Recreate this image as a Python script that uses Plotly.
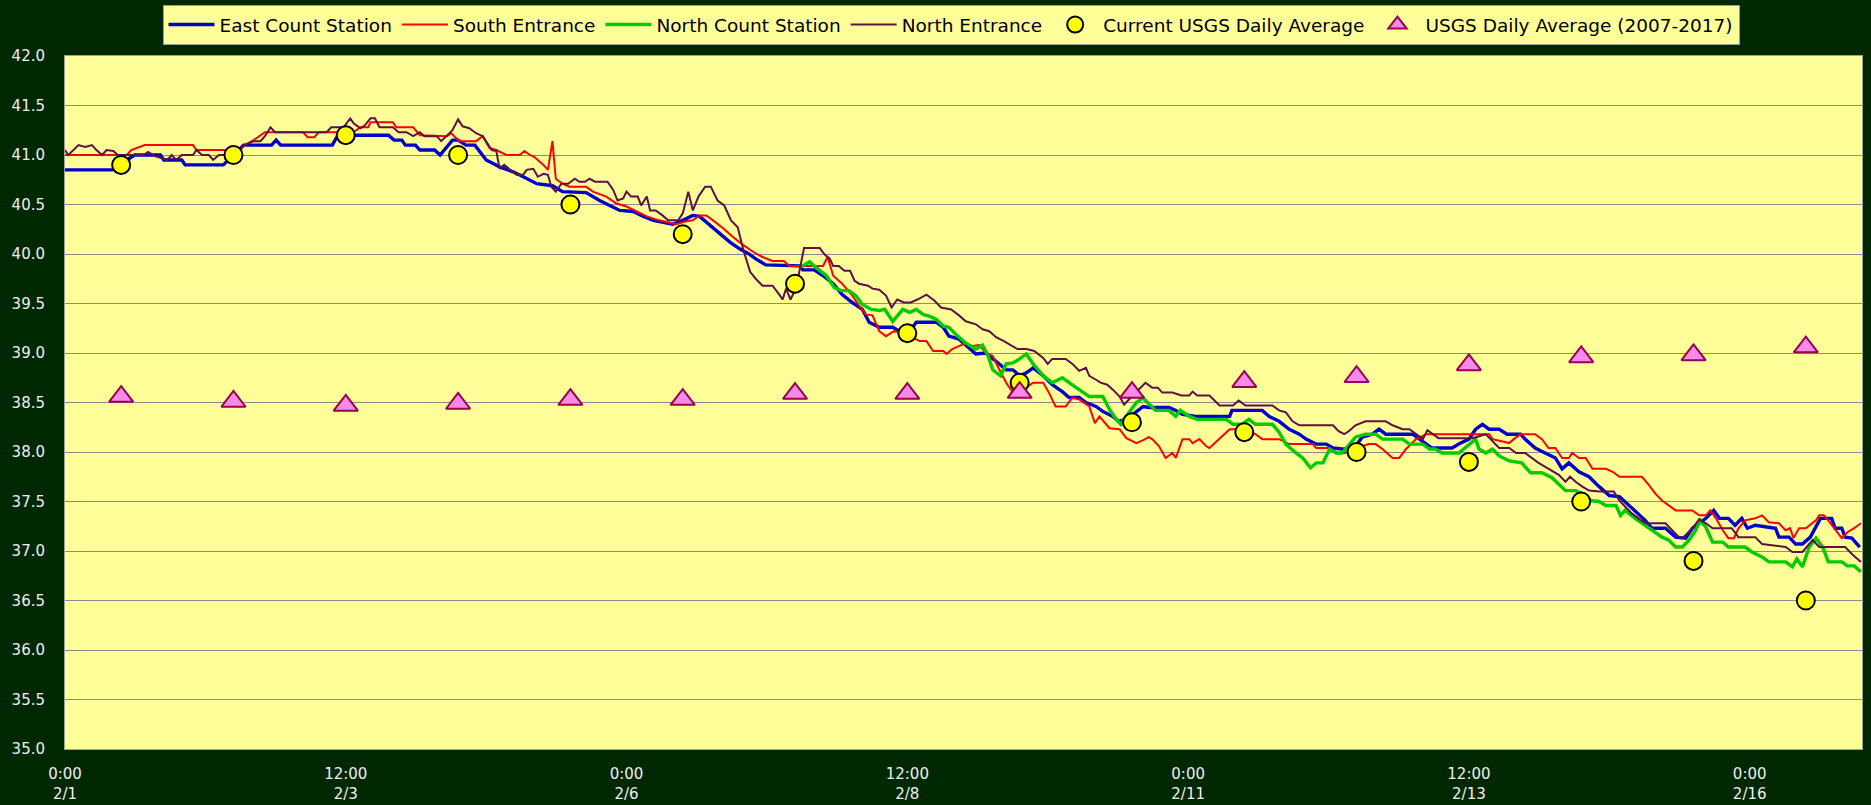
import pandas as pd
import plotly.graph_objects as go

# ---------------- data (days since 2/1 0:00, water temperature) ----------------
east_days = [0.0, 0.42, 0.55, 0.62, 0.85, 0.88, 1.04, 1.07, 1.41, 1.5, 1.59, 1.84, 1.88, 1.92, 2.38, 2.43, 2.88, 2.93, 3.0, 3.03,
             3.12, 3.16, 3.29, 3.34, 3.45, 3.5, 3.57, 3.65, 3.75, 3.87, 3.99, 4.08, 4.2, 4.34, 4.43, 4.64, 4.76, 4.85, 4.94, 5.06,
             5.15, 5.24, 5.41, 5.5, 5.59, 5.65, 5.74, 5.83, 5.92, 6.01, 6.09, 6.15, 6.24, 6.54, 6.57, 6.67, 6.75, 6.84, 6.92, 7.01,
             7.1, 7.16, 7.25, 7.37, 7.43, 7.52, 7.58, 7.76, 7.82, 7.87, 7.96, 8.05, 8.11, 8.2, 8.29, 8.38, 8.44, 8.5, 8.56, 8.62,
             8.71, 8.79, 8.88, 8.94, 9.03, 9.09, 9.18, 9.24, 9.33, 9.38, 9.45, 9.54, 9.6, 9.65, 9.83, 9.89, 9.95, 10.07, 10.37, 10.39,
             10.66, 10.72, 10.81, 10.9, 10.99, 11.05, 11.14, 11.23, 11.29, 11.37, 11.43, 11.49, 11.55, 11.64, 11.7, 11.76, 12.0, 12.06, 12.12, 12.17,
             12.35, 12.41, 12.5, 12.56, 12.62, 12.68, 12.77, 12.84, 12.96, 13.0, 13.09, 13.18, 13.27, 13.33, 13.39, 13.48, 13.57, 13.66, 13.75, 13.84,
             13.89, 13.98, 14.07, 14.13, 14.25, 14.34, 14.43, 14.49, 14.55, 14.61, 14.68, 14.73, 14.81, 14.87, 14.93, 14.98, 15.05, 15.23, 15.26, 15.35,
             15.41, 15.47, 15.54, 15.58, 15.63, 15.73, 15.76, 15.82, 15.85, 15.91, 15.98]
east_temp = [40.85, 40.85, 40.95, 41.0, 41.0, 40.95, 40.95, 40.9, 40.9, 41.0, 41.1, 41.1, 41.15, 41.1, 41.1, 41.2, 41.2, 41.15, 41.15, 41.1,
             41.1, 41.05, 41.05, 41.0, 41.15, 41.15, 41.1, 41.1, 40.95, 40.88, 40.83, 40.78, 40.71, 40.69, 40.63, 40.62, 40.54, 40.49, 40.44, 40.43,
             40.38, 40.34, 40.3, 40.34, 40.39, 40.38, 40.29, 40.21, 40.12, 40.05, 40.0, 39.95, 39.89, 39.88, 39.84, 39.84, 39.78, 39.7, 39.59, 39.51,
             39.44, 39.31, 39.26, 39.26, 39.22, 39.22, 39.31, 39.31, 39.26, 39.17, 39.14, 39.05, 38.99, 39.0, 38.92, 38.83, 38.83, 38.77, 38.8, 38.85,
             38.77, 38.68, 38.61, 38.55, 38.55, 38.5, 38.46, 38.41, 38.36, 38.31, 38.33, 38.41, 38.46, 38.45, 38.45, 38.42, 38.38, 38.36, 38.36, 38.42,
             38.42, 38.36, 38.31, 38.23, 38.18, 38.13, 38.08, 38.08, 38.04, 38.03, 38.03, 38.06, 38.15, 38.18, 38.23, 38.18, 38.18, 38.13, 38.08, 38.04,
             38.04, 38.08, 38.13, 38.23, 38.28, 38.23, 38.23, 38.18, 38.18, 38.13, 38.04, 37.99, 37.94, 37.83, 37.89, 37.8, 37.75, 37.65, 37.56, 37.55,
             37.5, 37.4, 37.31, 37.23, 37.23, 37.14, 37.13, 37.23, 37.28, 37.33, 37.41, 37.33, 37.33, 37.26, 37.33, 37.23, 37.26, 37.23, 37.14, 37.14,
             37.07, 37.07, 37.14, 37.23, 37.33, 37.33, 37.23, 37.23, 37.14, 37.13, 37.04]

south_days = [0.0, 0.55, 0.59, 0.71, 1.14, 1.17, 1.56, 1.6, 1.68, 1.74, 1.78, 2.12, 2.16, 2.22, 2.26, 2.57, 2.63, 2.7, 2.72, 2.92,
              2.95, 3.1, 3.16, 3.4, 3.44, 3.51, 3.66, 3.72, 3.78, 3.84, 3.93, 4.05, 4.09, 4.14, 4.18, 4.26, 4.3, 4.34, 4.37, 4.43,
              4.49, 4.64, 4.7, 4.82, 4.91, 5.0, 5.09, 5.18, 5.29, 5.38, 5.44, 5.53, 5.59, 5.65, 5.71, 5.77, 5.86, 5.95, 6.04, 6.13,
              6.21, 6.3, 6.4, 6.45, 6.75, 6.79, 6.84, 6.92, 7.01, 7.07, 7.13, 7.19, 7.25, 7.31, 7.38, 7.43, 7.52, 7.61, 7.67, 7.73,
              7.82, 7.85, 7.9, 7.96, 8.02, 8.08, 8.14, 8.2, 8.26, 8.32, 8.38, 8.44, 8.53, 8.62, 8.71, 8.76, 8.82, 8.91, 8.97, 9.03,
              9.12, 9.17, 9.21, 9.3, 9.39, 9.45, 9.54, 9.6, 9.65, 9.68, 9.74, 9.8, 9.86, 9.89, 9.95, 10.01, 10.04, 10.1, 10.16, 10.19,
              10.28, 10.37, 10.48, 10.6, 10.66, 10.81, 10.9, 11.11, 11.14, 11.26, 11.32, 11.4, 11.5, 11.61, 11.67, 11.73, 11.82, 11.88, 11.94, 12.03,
              12.12, 12.68, 12.71, 12.86, 12.9, 12.96, 13.09, 13.15, 13.21, 13.27, 13.33, 13.39, 13.42, 13.48, 13.54, 13.6, 13.72, 13.78, 13.84, 14.04,
              14.1, 14.16, 14.22, 14.28, 14.34, 14.49, 14.55, 14.61, 14.65, 14.7, 14.76, 14.81, 14.86, 14.9, 14.96, 15.05, 15.11, 15.17, 15.26, 15.32,
              15.36, 15.39, 15.44, 15.5, 15.59, 15.62, 15.66, 15.7, 15.75, 15.82, 15.87, 15.93, 15.99]
south_temp = [41.0, 41.0, 41.05, 41.1, 41.1, 41.05, 41.05, 41.1, 41.15, 41.2, 41.23, 41.23, 41.18, 41.18, 41.23, 41.23, 41.28, 41.28, 41.33, 41.33,
              41.28, 41.28, 41.2, 41.19, 41.22, 41.14, 41.14, 41.19, 41.07, 41.05, 41.0, 41.0, 41.04, 41.0, 40.98, 40.9, 40.85, 41.14, 40.76, 40.71,
              40.68, 40.68, 40.63, 40.58, 40.51, 40.48, 40.43, 40.38, 40.34, 40.32, 40.3, 40.33, 40.34, 40.39, 40.39, 40.34, 40.26, 40.17, 40.09, 40.02,
              39.97, 39.93, 39.93, 39.88, 39.88, 39.97, 39.78, 39.7, 39.58, 39.48, 39.39, 39.38, 39.22, 39.17, 39.22, 39.21, 39.17, 39.12, 39.12, 39.02,
              39.02, 38.99, 39.04, 39.07, 39.1, 39.07, 39.08, 39.0, 38.97, 38.83, 38.7, 38.6, 38.63, 38.7, 38.7, 38.6, 38.46, 38.46, 38.55, 38.53,
              38.46, 38.29, 38.36, 38.24, 38.23, 38.14, 38.09, 38.12, 38.15, 38.13, 38.06, 37.94, 37.99, 37.94, 38.13, 38.13, 38.09, 38.13, 38.06, 38.04,
              38.13, 38.23, 38.23, 38.18, 38.13, 38.13, 38.08, 38.08, 38.04, 38.04, 37.99, 37.99, 38.04, 38.08, 38.08, 38.03, 37.94, 37.94, 38.03, 38.13,
              38.18, 38.18, 38.13, 38.09, 38.13, 38.18, 38.18, 38.13, 38.04, 38.04, 37.94, 37.94, 37.99, 37.94, 37.94, 37.83, 37.83, 37.8, 37.75, 37.75,
              37.67, 37.58, 37.51, 37.46, 37.41, 37.41, 37.36, 37.36, 37.41, 37.33, 37.21, 37.13, 37.13, 37.23, 37.31, 37.33, 37.36, 37.29, 37.28, 37.21,
              37.23, 37.13, 37.23, 37.23, 37.31, 37.36, 37.36, 37.31, 37.23, 37.13, 37.19, 37.23, 37.28]

ncount_days = [6.55, 6.63, 6.69, 6.78, 6.85, 6.91, 6.98, 7.04, 7.1, 7.18, 7.25, 7.3, 7.37, 7.46, 7.52, 7.58, 7.64, 7.7, 7.76, 7.82,
               7.87, 7.93, 8.02, 8.11, 8.17, 8.22, 8.26, 8.33, 8.38, 8.44, 8.5, 8.56, 8.62, 8.71, 8.79, 8.88, 8.94, 9.03, 9.12, 9.24,
               9.3, 9.36, 9.4, 9.48, 9.54, 9.6, 9.62, 9.71, 9.83, 9.89, 9.93, 10.01, 10.08, 10.34, 10.4, 10.48, 10.54, 10.6, 10.75, 10.81,
               10.87, 10.96, 11.02, 11.09, 11.14, 11.2, 11.26, 11.32, 11.37, 11.49, 11.58, 11.67, 11.73, 11.91, 11.97, 12.09, 12.15, 12.2, 12.26, 12.41,
               12.5, 12.56, 12.59, 12.65, 12.71, 12.77, 12.86, 12.97, 13.05, 13.15, 13.24, 13.3, 13.36, 13.45, 13.51, 13.57, 13.66, 13.72, 13.81, 13.85,
               13.89, 13.98, 14.04, 14.13, 14.22, 14.28, 14.34, 14.4, 14.46, 14.52, 14.56, 14.61, 14.67, 14.76, 14.81, 14.96, 15.02, 15.11, 15.17, 15.32,
               15.38, 15.42, 15.47, 15.53, 15.59, 15.65, 15.7, 15.82, 15.87, 15.93, 15.99]
ncount_temp = [39.87, 39.92, 39.86, 39.78, 39.66, 39.63, 39.63, 39.58, 39.49, 39.44, 39.43, 39.44, 39.32, 39.44, 39.41, 39.44, 39.39, 39.37, 39.34, 39.27,
               39.26, 39.19, 39.1, 39.04, 39.08, 38.97, 38.83, 38.77, 38.89, 38.9, 38.94, 38.99, 38.89, 38.77, 38.7, 38.75, 38.7, 38.63, 38.56, 38.56,
               38.43, 38.33, 38.28, 38.41, 38.5, 38.55, 38.52, 38.42, 38.42, 38.36, 38.42, 38.36, 38.33, 38.33, 38.28, 38.28, 38.33, 38.28, 38.28, 38.2,
               38.08, 37.99, 37.94, 37.84, 37.89, 37.89, 38.03, 37.99, 37.99, 38.15, 38.18, 38.18, 38.13, 38.13, 38.08, 38.08, 38.03, 38.03, 37.99, 37.99,
               38.08, 38.13, 38.03, 37.99, 38.03, 37.96, 37.91, 37.89, 37.79, 37.79, 37.74, 37.68, 37.61, 37.61, 37.58, 37.51, 37.5, 37.46, 37.46, 37.36,
               37.41, 37.33, 37.28, 37.21, 37.14, 37.11, 37.04, 37.04, 37.11, 37.21, 37.31, 37.24, 37.09, 37.09, 37.04, 37.04, 36.99, 36.94, 36.89, 36.89,
               36.84, 36.92, 36.84, 37.04, 37.13, 37.04, 36.89, 36.89, 36.85, 36.85, 36.79]

nent_days = [0.0, 0.03, 0.12, 0.18, 0.24, 0.28, 0.33, 0.37, 0.43, 0.47, 0.7, 0.74, 0.8, 0.91, 0.95, 0.99, 1.04, 1.14, 1.17, 1.22,
             1.28, 1.32, 1.37, 1.46, 1.53, 1.6, 1.68, 1.74, 1.78, 1.83, 1.87, 2.33, 2.37, 2.48, 2.54, 2.57, 2.63, 2.67, 2.72, 2.76,
             2.8, 2.92, 2.97, 3.04, 3.1, 3.16, 3.2, 3.31, 3.35, 3.4, 3.45, 3.5, 3.54, 3.6, 3.66, 3.72, 3.75, 3.8, 3.84, 3.87,
             3.91, 3.97, 4.02, 4.08, 4.11, 4.17, 4.21, 4.26, 4.3, 4.33, 4.37, 4.42, 4.48, 4.54, 4.58, 4.63, 4.67, 4.72, 4.83, 4.88,
             4.92, 4.97, 5.0, 5.04, 5.1, 5.13, 5.18, 5.21, 5.26, 5.32, 5.37, 5.46, 5.5, 5.55, 5.59, 5.64, 5.7, 5.75, 5.81, 5.87,
             5.93, 5.99, 6.04, 6.1, 6.15, 6.21, 6.3, 6.36, 6.39, 6.42, 6.46, 6.51, 6.58, 6.72, 6.76, 6.81, 6.84, 6.89, 6.94, 6.99,
             7.03, 7.07, 7.15, 7.19, 7.25, 7.31, 7.36, 7.41, 7.47, 7.53, 7.59, 7.67, 7.74, 7.8, 7.89, 7.96, 8.02, 8.11, 8.17, 8.23,
             8.29, 8.36, 8.44, 8.48, 8.56, 8.63, 8.71, 8.75, 8.79, 8.91, 8.97, 9.03, 9.09, 9.12, 9.18, 9.22, 9.28, 9.33, 9.39, 9.43,
             9.49, 9.57, 9.62, 9.68, 9.73, 9.77, 9.86, 9.94, 10.01, 10.04, 10.08, 10.19, 10.28, 10.4, 10.45, 10.51, 10.75, 10.81, 10.87, 10.93,
             10.99, 11.29, 11.34, 11.39, 11.43, 11.49, 11.58, 11.76, 11.82, 11.91, 11.97, 12.03, 12.09, 12.13, 12.18, 12.23, 12.53, 12.59, 12.65, 12.71,
             12.77, 12.86, 12.92, 13.0, 13.06, 13.12, 13.21, 13.3, 13.36, 13.4, 13.45, 13.51, 13.57, 13.66, 13.79, 13.84, 13.89, 13.95, 14.01, 14.07,
             14.25, 14.31, 14.37, 14.41, 14.49, 14.55, 14.61, 14.67, 14.84, 14.9, 15.05, 15.11, 15.32, 15.38, 15.47, 15.56, 15.62, 15.85, 15.91, 15.99]
nent_temp = [41.05, 41.0, 41.1, 41.08, 41.1, 41.05, 41.0, 41.05, 41.04, 41.0, 41.0, 41.03, 40.99, 40.95, 41.0, 40.95, 41.0, 41.0, 41.05, 41.0,
             41.0, 40.95, 41.0, 41.0, 41.05, 41.1, 41.14, 41.14, 41.19, 41.28, 41.23, 41.23, 41.28, 41.28, 41.37, 41.32, 41.27, 41.3, 41.37, 41.37,
             41.28, 41.28, 41.23, 41.23, 41.19, 41.23, 41.19, 41.19, 41.14, 41.19, 41.25, 41.36, 41.29, 41.27, 41.22, 41.19, 41.14, 41.05, 41.04, 40.86,
             40.9, 40.85, 40.8, 40.8, 40.85, 40.86, 40.78, 40.81, 40.8, 40.68, 40.63, 40.71, 40.71, 40.76, 40.73, 40.73, 40.76, 40.73, 40.73, 40.65,
             40.54, 40.56, 40.63, 40.58, 40.58, 40.49, 40.58, 40.44, 40.44, 40.39, 40.34, 40.34, 40.41, 40.63, 40.44, 40.58, 40.68, 40.68, 40.54, 40.49,
             40.34, 40.27, 40.04, 39.82, 39.75, 39.68, 39.68, 39.59, 39.54, 39.65, 39.54, 39.66, 40.06, 40.06, 40.0, 39.95, 39.88, 39.88, 39.83, 39.83,
             39.73, 39.7, 39.68, 39.65, 39.64, 39.58, 39.46, 39.54, 39.51, 39.51, 39.54, 39.59, 39.53, 39.46, 39.44, 39.38, 39.32, 39.29, 39.24, 39.22,
             39.16, 39.12, 39.07, 39.04, 39.04, 39.02, 38.95, 38.89, 38.94, 38.94, 38.89, 38.82, 38.85, 38.77, 38.73, 38.7, 38.68, 38.63, 38.56, 38.48,
             38.55, 38.64, 38.7, 38.65, 38.65, 38.6, 38.6, 38.57, 38.57, 38.61, 38.57, 38.57, 38.47, 38.47, 38.52, 38.47, 38.47, 38.42, 38.4, 38.31,
             38.27, 38.27, 38.21, 38.18, 38.21, 38.27, 38.31, 38.31, 38.27, 38.23, 38.23, 38.18, 38.13, 38.22, 38.18, 38.14, 38.14, 38.16, 38.18, 38.11,
             38.04, 38.04, 37.99, 37.99, 37.94, 37.89, 37.83, 37.77, 37.7, 37.75, 37.7, 37.65, 37.61, 37.6, 37.6, 37.51, 37.45, 37.38, 37.33, 37.28,
             37.28, 37.21, 37.14, 37.14, 37.23, 37.32, 37.28, 37.23, 37.23, 37.14, 37.14, 37.07, 37.04, 36.99, 36.99, 37.11, 37.04, 37.04, 36.97, 36.89]

usgs_days = [0.5, 1.5, 2.5, 3.5, 4.5, 5.5, 6.5, 7.5, 8.5, 9.5, 10.5, 11.5, 12.5, 13.5, 14.5, 15.5]
usgs_current = [40.9, 41.0, 41.2, 41.0, 40.5, 40.2, 39.7, 39.2, 38.7, 38.3, 38.2, 38.0, 37.9, 37.5, 36.9, 36.5]
usgs_hist = [38.56, 38.51, 38.47, 38.49, 38.53, 38.53, 38.59, 38.59, 38.6, 38.6, 38.71, 38.76, 38.88, 38.96, 38.98, 39.06]

tick_days = [0, 2.5, 5, 7.5, 10, 12.5, 15]
tick_labels = ["0:00<br>2/1", "12:00<br>2/3", "0:00<br>2/6", "12:00<br>2/8", "0:00<br>2/11", "12:00<br>2/13", "0:00<br>2/16"]

BASE = pd.Timestamp("2018-02-01")


def to_time(days):
    return [BASE + pd.Timedelta(days=d) for d in days]


FONT = "'DejaVu Sans', sans-serif"

fig = go.Figure()
fig.add_trace(go.Scatter(x=to_time(east_days), y=east_temp, mode="lines", name="East Count Station",
                         line=dict(color="#0000CC", width=3.4)))
fig.add_trace(go.Scatter(x=to_time(south_days), y=south_temp, mode="lines", name="South Entrance",
                         line=dict(color="#FF0000", width=2)))
fig.add_trace(go.Scatter(x=to_time(ncount_days), y=ncount_temp, mode="lines", name="North Count Station",
                         line=dict(color="#00CC00", width=3.4)))
fig.add_trace(go.Scatter(x=to_time(nent_days), y=nent_temp, mode="lines", name="North Entrance",
                         line=dict(color="#5E1048", width=2)))
fig.add_trace(go.Scatter(x=to_time(usgs_days), y=usgs_current, mode="markers", name="Current USGS Daily Average",
                         marker=dict(symbol="circle", size=18, color="#FFFF00", line=dict(color="#000000", width=2))))
fig.add_trace(go.Scatter(x=to_time(usgs_days), y=usgs_hist, mode="markers", name="USGS Daily Average (2007-2017)",
                         marker=dict(symbol="triangle-up", size=21, color="#F58AE8", line=dict(color="#990050", width=2))))

fig.update_layout(
    width=1871, height=805,
    margin=dict(l=65, r=9, t=56, b=56, autoexpand=False),
    paper_bgcolor="#002800",
    plot_bgcolor="#FFFF99",
    font=dict(family=FONT, size=15, color="#EEEEEE"),
    showlegend=True,
    legend=dict(orientation="h", xref="container", yref="container",
                x=951 / 1871, xanchor="center", y=1 - 5 / 805, yanchor="top",
                bgcolor="#FFFF99", bordercolor="#9A9A9A", borderwidth=1,
                font=dict(family=FONT, size=18.5, color="#000000"),
                itemwidth=46, tracegroupgap=0),
    xaxis=dict(range=[BASE, BASE + pd.Timedelta(days=16)],
               tickvals=to_time(tick_days), ticktext=tick_labels, automargin=False,
               showgrid=False, zeroline=False, showline=True, mirror=True,
               linecolor="#A0A0A0", linewidth=1, ticks="", ticklabelstandoff=11,
               tickfont=dict(family=FONT, size=15, color="#EEEEEE")),
    yaxis=dict(range=[35, 42], dtick=0.5, tick0=35, tickformat=".1f", automargin=False,
               showgrid=True, gridcolor="#8C8C8C", gridwidth=1, zeroline=False,
               showline=True, mirror=True, linecolor="#A0A0A0", linewidth=1, ticks="",
               ticklabelstandoff=16,
               tickfont=dict(family=FONT, size=15, color="#EEEEEE")),
)

fig.write_html("out.html", config={"displayModeBar": False},
               post_script="document.body.style.margin='0';document.body.style.overflow='hidden';")
